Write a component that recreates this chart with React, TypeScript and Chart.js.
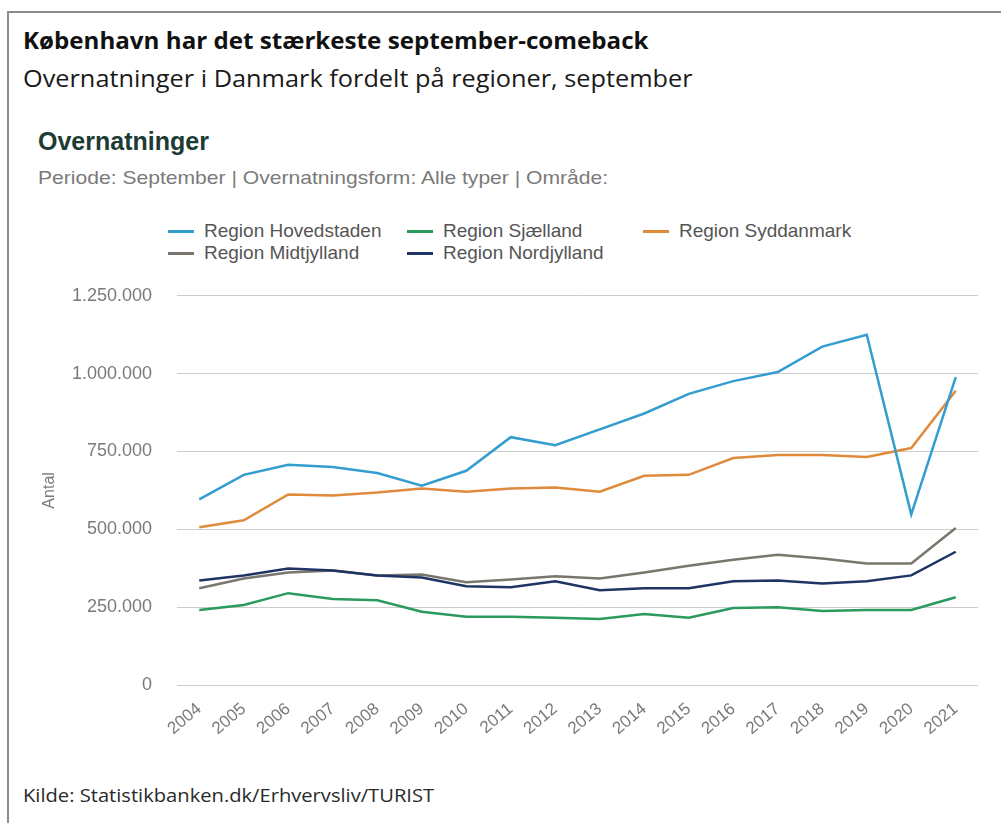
import React, { useEffect, useRef } from "react";
import { Chart, registerables } from "chart.js";

Chart.register(...registerables);

const years = ["2004","2005","2006","2007","2008","2009","2010","2011","2012","2013","2014","2015","2016","2017","2018","2019","2020","2021"];
const hovedstaden = [596000, 675000, 707000, 700000, 681000, 640000, 688000, 796000, 770000, 821000, 872000, 935000, 976000, 1005000, 1087000, 1125000, 548000, 989000];
const sjaelland = [241000, 257000, 295000, 276000, 272000, 235000, 219000, 219000, 216000, 212000, 228000, 216000, 247000, 250000, 238000, 241000, 241000, 282000];
const syddanmark = [507000, 529000, 612000, 609000, 618000, 631000, 621000, 631000, 634000, 621000, 672000, 675000, 729000, 739000, 739000, 732000, 761000, 945000];
const midtjylland = [311000, 342000, 361000, 368000, 352000, 355000, 330000, 339000, 349000, 342000, 361000, 383000, 402000, 418000, 406000, 390000, 390000, 504000];
const nordjylland = [336000, 352000, 374000, 368000, 352000, 345000, 317000, 314000, 333000, 304000, 311000, 311000, 333000, 336000, 326000, 333000, 352000, 428000];

const seriesNames = ["Region Hovedstaden", "Region Sjælland", "Region Syddanmark", "Region Midtjylland", "Region Nordjylland"];
const seriesColors = ["#339dcf", "#2a9a5e", "#e08a3c", "#7a766e", "#1f3464"];
const seriesData = [hovedstaden, sjaelland, syddanmark, midtjylland, nordjylland];
const seriesOrder = [0, 2, 1, 4, 3];

const yMax = 1250000;
const yStep = 250000;

const fmt = (v: number) => String(Math.round(v)).replace(/\B(?=(\d{3})+(?!\d))/g, ".");

const SANS = "'Liberation Sans', Arial, sans-serif";
const HEAD = "'Open Sans', 'Noto Sans', sans-serif";

const legendPos = [
  { left: 168, top: 222 },
  { left: 407, top: 222 },
  { left: 643, top: 222 },
  { left: 168, top: 244 },
  { left: 407, top: 244 },
];

export default function App() {
  const ref = useRef<HTMLCanvasElement | null>(null);
  useEffect(() => {
    if (!ref.current) return;
    const chart = new Chart(ref.current, {
      type: "line",
      data: {
        labels: years,
        datasets: seriesData.map((d, i) => ({
          label: seriesNames[i],
          data: d,
          borderColor: seriesColors[i],
          backgroundColor: seriesColors[i],
          borderWidth: 2.5,
          pointRadius: 0,
          tension: 0,
          order: seriesOrder[i],
        })),
      },
      options: {
        animation: false,
        responsive: false,
        devicePixelRatio: 1,
        layout: { padding: { top: 31, right: 23, left: 0, bottom: 0 } },
        plugins: { legend: { display: false }, tooltip: { enabled: false } },
        scales: {
          x: {
            offset: true,
            grid: { display: false },
            border: { display: false },
            ticks: {
              color: "#7a7a7a",
              font: { family: SANS, size: 17 },
              maxRotation: 40,
              minRotation: 40,
              autoSkip: false,
              padding: 6,
            },
            afterFit: (s: any) => { s.height = 95; },
          },
          y: {
            min: 0,
            max: yMax,
            ticks: {
              stepSize: yStep,
              callback: (v: any) => fmt(Number(v)),
              color: "#7a7a7a",
              font: { family: SANS, size: 18 },
              padding: 25,
            },
            grid: { color: "#cccccc", drawTicks: false, lineWidth: 1 },
            border: { display: false },
            title: {
              display: true,
              text: "Antal",
              color: "#7a7a7a",
              font: { family: SANS, size: 16 },
              padding: { top: 40, bottom: 0 },
            },
            afterFit: (s: any) => { s.width = 177; },
          },
        },
      },
    });
    return () => chart.destroy();
  }, []);

  return (
    <div style={{ position: "absolute", left: 0, top: 0, width: 1001, height: 823, overflow: "hidden", background: "#fff" }}>
      <div style={{ position: "absolute", left: 7, top: 11, width: 1100, height: 900, borderTop: "2px solid #8c8c8c", borderLeft: "2px solid #8c8c8c" }} />
      <div style={{ position: "absolute", left: 23, top: 29, fontFamily: HEAD, fontWeight: 700, fontSize: 23, lineHeight: "23px", color: "#111", whiteSpace: "nowrap", transform: "scaleX(1.05)", transformOrigin: "left center" }}>
        København har det stærkeste september-comeback
      </div>
      <div style={{ position: "absolute", left: 23, top: 67, fontFamily: HEAD, fontSize: 23, lineHeight: "23px", color: "#1a1a1a", whiteSpace: "nowrap", transform: "scaleX(1.1)", transformOrigin: "left center" }}>
        Overnatninger i Danmark fordelt på regioner, september
      </div>
      <div style={{ position: "absolute", left: 38, top: 129, fontFamily: SANS, fontWeight: 700, fontSize: 25, lineHeight: "25px", color: "#1d3b35", whiteSpace: "nowrap" }}>
        Overnatninger
      </div>
      <div style={{ position: "absolute", left: 38, top: 168, fontFamily: SANS, fontSize: 19, lineHeight: "19px", color: "#7a7a7a", whiteSpace: "nowrap", transform: "scaleX(1.11)", transformOrigin: "left center" }}>
        Periode: September | Overnatningsform: Alle typer | Område:
      </div>
      {seriesNames.map((name, i) => (
        <div key={name} style={{ position: "absolute", left: legendPos[i].left, top: legendPos[i].top, display: "flex", alignItems: "center", whiteSpace: "nowrap" }}>
          <div style={{ width: 26, height: 3, background: seriesColors[i], marginRight: 10 }} />
          <span style={{ fontFamily: SANS, fontSize: 19, lineHeight: "18px", color: "#555" }}>{name}</span>
        </div>
      ))}
      <canvas ref={ref} width={1001} height={520} style={{ position: "absolute", left: 0, top: 260, width: 1001, height: 520 }} />
      <div style={{ position: "absolute", left: 23, top: 786, fontFamily: HEAD, fontSize: 19, lineHeight: "19px", color: "#2a2a2a", whiteSpace: "nowrap", transform: "scaleX(1.06)", transformOrigin: "left center" }}>
        Kilde: Statistikbanken.dk/Erhvervsliv/TURIST
      </div>
    </div>
  );
}
